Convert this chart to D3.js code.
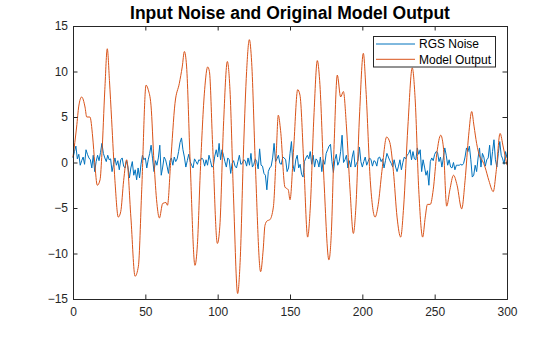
<!DOCTYPE html>
<html><head><meta charset="utf-8">
<script src="https://cdn.jsdelivr.net/npm/d3@7/dist/d3.min.js"></script>
<style>body{margin:0;background:#fff}svg{display:block}text{font-family:Arial,"Liberation Sans",Helvetica,sans-serif}</style>
</head><body>
<script>
const title = "Input Noise and Original Model Output";
const seriesNames = ["RGS Noise", "Model Output"];
const xTicks = [0, 50, 100, 150, 200, 250, 300];
const yTicks = [-15, -10, -5, 0, 5, 10, 15];
// RGS noise, one value per sample 0..300
const noise = [0.5,1.2,1.8,0.4,0.9,-0.3,0.2,0.6,-0.2,1.4,0.9,0.5,0.3,-0.6,0.8,-1.0,0.1,0.8,0.2,1.1,
2.1,1.0,0.5,0.1,0.8,0.3,0.4,-1.0,-0.2,0.5,-0.3,0.2,-0.8,0.3,0.5,-0.4,-0.6,0.2,-0.5,-1.7,
-0.6,0.1,-1.4,-0.8,-1.9,-0.6,-1.7,-0.2,0.8,0.3,0.5,-0.6,0.3,1.0,1.9,0.4,-1.0,0.2,-0.3,0.5,
1.9,-1.4,-0.5,0.6,0.3,-0.4,-1.2,0.2,0.5,-0.3,0.6,0.1,0.4,1.2,2.2,2.7,1.4,0.6,-0.5,0.2,
0.9,0.1,-0.3,-0.6,0.4,0.1,-0.2,0.3,0.2,0.5,0.3,-0.4,0.3,-0.3,0.8,0.2,-0.5,-0.4,0.7,1.4,
0.6,2.1,0.3,1.4,0.8,0.1,-0.5,0.5,0.3,-1.2,-0.1,0.2,-0.4,-0.6,0.1,0.8,-0.2,-0.1,0.3,0.2,
-0.4,0.5,-0.3,1.0,-0.5,-0.2,0.4,0.1,-0.7,1.5,-0.3,-0.4,-1.2,-1.4,-3.0,-1.0,-0.6,-0.4,0.5,2.1,
0.1,0.4,0.8,-0.1,-0.2,0.6,0.5,0.3,-1.0,-0.6,1.0,2.3,-0.2,-1.0,0.3,0.8,-0.6,-0.2,-1.3,-1.6,
0.1,0.5,0.8,0.4,1.2,-0.2,0.8,-0.5,0.4,0.2,-0.5,0.6,-1.0,0.3,-0.2,1.0,1.4,1.8,2.0,0.1,
-1.1,0.3,0.9,-0.3,0.1,1.2,3.0,0.0,0.3,0.8,-0.6,0.2,-0.5,0.6,1.3,-0.5,-0.1,0.2,1.7,0.1,
-0.5,0.1,0.6,-0.3,0.1,0.5,0.3,-0.4,0.2,0.1,-0.4,0.5,0.6,0.1,0.4,-0.6,0.2,1.0,0.6,0.2,
-0.1,-0.5,0.3,-0.5,-1.0,-0.4,0.3,-0.8,0.0,0.6,0.4,0.8,1.0,1.4,0.3,1.2,0.4,0.3,1.6,0.9,
1.4,-1.0,0.3,-0.5,-1.4,-0.9,-2.5,0.1,0.5,0.2,0.9,1.2,1.1,0.1,0.6,-0.5,0.5,1.6,0.8,-0.3,
0.3,-0.5,-0.6,0.0,-0.8,-0.3,-0.3,-0.3,-0.2,-0.3,-0.1,0.6,1.6,1.2,1.8,0.3,-1.6,-1.4,-0.3,-1.0,
0.5,1.6,-0.5,1.0,0.6,-0.4,0.3,0.5,1.9,-0.3,1.2,2.5,0.3,-0.5,1.0,2.3,0.8,0.4,-0.2,1.2,0.5];
// Model output, read at its turning points
const outX = [0,2.5,4,6,8.3,9.5,11.7,13.6,15,16.8,18.7,20,22,23.7,25.2,26.7,29,31.3,33,35,37.1,40,42.9,45.2,47.5,50.5,52,53.9,56,58,59.7,62,64.3,65.3,67.5,70.5,73.5,75.5,77,78.5,81,84.3,86,88,91,93.1,94.3,96.5,99.8,101.5,104,106.7,108.5,111,113.8,115.5,118,120,121.9,123.5,126,129.7,131.5,132.7,134.3,136,138.5,140.5,141.9,143.5,146.5,148.8,150,152.5,155.3,156.9,159.5,162.2,164,166.5,168.9,170.5,173.5,176.9,178.5,180.5,182.7,185,186.9,189,191.5,193.8,195.5,198,200.7,202.5,205.5,208.8,211,213.5,216.8,219,221.5,224,226.5,228.5,231.5,234.5,236.5,239,241.7,243.5,245,247,249,251.5,254.2,256,258.3,260.5,263,265.5,268.7,271,273.5,275.6,277.2,279,281.3,283,284.8,287.5,290.5,292.5,295.2,297.4,300];
const outY = [0.6,3.9,6.2,7.2,6.1,5.0,5.0,2.8,0,-2.5,-1.9,1,8,12.5,9,4.7,-2,-6.0,-5.4,-2,0.3,-6,-12.5,-11.4,-3,8.5,8,6.3,0,-4.5,-6.1,-4.5,-4.4,-4.7,0,6.5,8.7,10.5,12.2,10.6,0,-11.3,-9,-1,8,10.5,10,2,-8.9,-7,4,11.1,8,-4,-14.4,-11,2,10,13.5,11,0,-12.0,-9.5,-6.9,-6.4,-6.3,-4.9,1,5.2,3.5,-2.7,-3.0,-4.1,1.5,8.0,7.4,0,-8.2,-5,5,11.2,9,-2,-10.7,-8,2,9.6,7.2,7.8,4,-3.0,-7.8,-5,5,12.0,8,-2,-6.0,-4.6,-1,2.8,2.2,-1,-6,-8.2,-5,4,10.4,7,-3,-8.2,-6,-4.6,-4.6,-3,1,3.0,1.7,-4.8,-3,-1.4,-2.5,-5.1,-2,3,5.6,4,2.1,0.6,0.2,-0.5,-2,-3.2,-1,3.2,1.7,-0.3];

const W = 560, H = 337;
const m = {l: 73, r: 53, t: 26, b: 38};
const svg = d3.select("body").append("svg").attr("width", W).attr("height", H);
svg.append("rect").attr("width", W).attr("height", H).attr("fill", "#fff");

const x = d3.scaleLinear().domain([0, 300]).range([m.l, W - m.r]);
const y = d3.scaleLinear().domain([-15, 15]).range([H - m.b, m.t]);
const axisColor = "#262626";
const tl = 4.5;

const g = svg.append("g");
// lines
const noiseLine = d3.line().x((d, i) => x(i)).y(d => y(d));
g.append("path").datum(noise).attr("d", noiseLine).attr("fill", "none")
  .attr("stroke", "#0072BD").attr("stroke-width", 1).attr("stroke-linejoin", "round");
const outData = outX.map((v, i) => [v, outY[i]]);
const outLine = d3.line().x(d => x(d[0])).y(d => y(d[1])).curve(d3.curveMonotoneX);
g.append("path").datum(outData).attr("d", outLine).attr("fill", "none")
  .attr("stroke", "#D95319").attr("stroke-width", 1).attr("stroke-linejoin", "round");

// axes
const xb = svg.append("g").attr("transform", `translate(0,${H - m.b})`)
  .call(d3.axisBottom(x).tickValues(xTicks).tickSize(-tl).tickPadding(8));
const xt = svg.append("g").attr("transform", `translate(0,${m.t})`)
  .call(d3.axisTop(x).tickValues(xTicks).tickSize(-tl).tickFormat(""));
const yl = svg.append("g").attr("transform", `translate(${m.l},0)`)
  .call(d3.axisLeft(y).tickValues(yTicks).tickSize(-tl).tickPadding(5));
const yr = svg.append("g").attr("transform", `translate(${W - m.r},0)`)
  .call(d3.axisRight(y).tickValues(yTicks).tickSize(-tl).tickFormat(""));
[xb, xt, yl, yr].forEach(a => {
  a.selectAll("path").attr("stroke", axisColor).attr("stroke-width", 1);
  a.selectAll("line").attr("stroke", axisColor).attr("stroke-width", 1);
  a.selectAll("text").attr("fill", "#262626").style("font-size", "12px")
    .style("font-family", "Arial, 'Liberation Sans', Helvetica, sans-serif");
});

// title
svg.append("text").attr("x", (m.l + W - m.r) / 2).attr("y", 19).attr("text-anchor", "middle")
  .style("font-size", "17.5px").style("font-weight", "bold").attr("fill", "#000").text(title);

// legend
const lg = svg.append("g");
lg.append("rect").attr("x", 373.5).attr("y", 36.5).attr("width", 122).attr("height", 30.5)
  .attr("fill", "#fff").attr("stroke", axisColor).attr("stroke-width", 1);
const colors = ["#0072BD", "#D95319"];
seriesNames.forEach((s, i) => {
  const yy = 44 + i * 15.3;
  lg.append("line").attr("x1", 376).attr("x2", 415).attr("y1", yy).attr("y2", yy)
    .attr("stroke", colors[i]).attr("stroke-width", 1);
  lg.append("text").attr("x", 419).attr("y", yy + 4.3).style("font-size", "12px")
    .attr("fill", "#000").text(s);
});
</script>
</body></html>
